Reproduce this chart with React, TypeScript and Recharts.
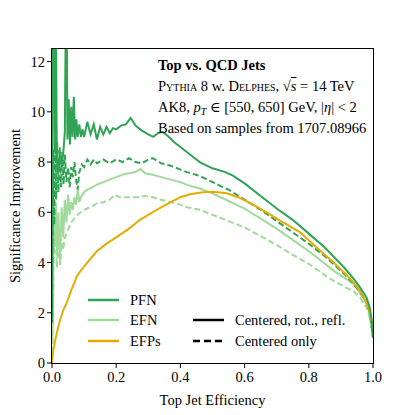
import React from 'react';
import { LineChart, Line, XAxis, YAxis } from 'recharts';

// efficiency, significance improvement
const PFN_ROT: [number, number][] = [
  [0.001, 1.6], [0.002, 14], [0.004, 10], [0.006, 14], [0.009, 8.5], [0.012, 14], [0.015, 8.2],
  [0.02, 7.6], [0.025, 8.4], [0.03, 7.8], [0.036, 8.5], [0.04, 9.2], [0.043, 14], [0.046, 13.5],
  [0.048, 8.9], [0.052, 10.5], [0.056, 8.7], [0.06, 10.2], [0.064, 9.0], [0.068, 10.6], [0.072, 8.9],
  [0.076, 9.7], [0.08, 9.0], [0.085, 9.5], [0.09, 9.0], [0.095, 9.3], [0.1, 9.0], [0.11, 9.6],
  [0.12, 9.1], [0.13, 9.5], [0.14, 8.9], [0.15, 9.4], [0.16, 9.1], [0.17, 9.4], [0.18, 9.15],
  [0.19, 9.35], [0.2, 9.3], [0.215, 9.45], [0.23, 9.5], [0.245, 9.75], [0.26, 9.45], [0.28, 9.25],
  [0.3, 9.1], [0.315, 9.0], [0.33, 9.15], [0.345, 9.2], [0.36, 9.05], [0.38, 8.8], [0.4, 8.6],
  [0.42, 8.4], [0.44, 8.2], [0.46, 8.0], [0.5, 7.75], [0.54, 7.6], [0.565, 7.45], [0.6, 7.15],
  [0.65, 6.65], [0.7, 6.15], [0.75, 5.7], [0.8, 5.15], [0.85, 4.6], [0.88, 4.2], [0.91, 3.8],
  [0.94, 3.35], [0.96, 3.0], [0.98, 2.6], [0.99, 2.2], [0.996, 1.7], [1.0, 1.0],
];

const PFN_CEN: [number, number][] = [
  [0.001, 4.0], [0.004, 8.5], [0.007, 5.5], [0.01, 9.0], [0.013, 6.5], [0.016, 8.8], [0.02, 6.8],
  [0.024, 8.6], [0.028, 7.0], [0.032, 8.4], [0.036, 7.1], [0.04, 8.3], [0.045, 7.2], [0.05, 7.8],
  [0.055, 7.0], [0.06, 7.8], [0.065, 7.4], [0.07, 8.0], [0.075, 7.3], [0.08, 6.9], [0.085, 7.6],
  [0.093, 7.9], [0.1, 7.8], [0.11, 8.1], [0.12, 7.9], [0.13, 8.1], [0.14, 7.95], [0.16, 8.1],
  [0.18, 7.95], [0.2, 8.1], [0.22, 8.0], [0.24, 8.15], [0.26, 8.0], [0.28, 7.95], [0.3, 8.1],
  [0.315, 8.15], [0.34, 7.95], [0.37, 7.85], [0.4, 7.7], [0.42, 7.6], [0.46, 7.45], [0.5, 7.2],
  [0.55, 6.9], [0.6, 6.5], [0.65, 6.1], [0.7, 5.65], [0.75, 5.2], [0.8, 4.75], [0.85, 4.25],
  [0.88, 3.9], [0.91, 3.55], [0.94, 3.15], [0.96, 2.8], [0.98, 2.4], [0.99, 2.0], [1.0, 1.0],
];

const EFN_ROT: [number, number][] = [
  [0.001, 0.8], [0.004, 5.5], [0.008, 4.6], [0.012, 6.4], [0.016, 4.3], [0.02, 6.0], [0.025, 4.0],
  [0.03, 6.2], [0.035, 5.0], [0.04, 6.5], [0.045, 5.6], [0.05, 6.7], [0.055, 5.9], [0.06, 6.4],
  [0.065, 6.1], [0.07, 6.6], [0.075, 6.3], [0.08, 6.9], [0.085, 6.4], [0.09, 6.6], [0.1, 6.8],
  [0.11, 6.9], [0.12, 6.95], [0.14, 7.1], [0.16, 7.2], [0.18, 7.3], [0.2, 7.4], [0.22, 7.5],
  [0.24, 7.55], [0.26, 7.6], [0.275, 7.72], [0.29, 7.55], [0.31, 7.5], [0.34, 7.4], [0.37, 7.3],
  [0.4, 7.2], [0.43, 7.05], [0.46, 6.95], [0.5, 6.75], [0.55, 6.45], [0.6, 6.15], [0.65, 5.75],
  [0.7, 5.35], [0.75, 4.9], [0.8, 4.45], [0.85, 3.95], [0.88, 3.65], [0.91, 3.4], [0.94, 3.15],
  [0.96, 2.8], [0.98, 2.4], [0.99, 2.0], [1.0, 1.0],
];

const EFN_CEN: [number, number][] = [
  [0.001, 0.4], [0.005, 4.0], [0.01, 5.5], [0.015, 3.8], [0.02, 5.0], [0.025, 3.9], [0.03, 4.8],
  [0.035, 4.5], [0.04, 5.0], [0.05, 5.3], [0.06, 5.6], [0.066, 5.7], [0.08, 5.9], [0.1, 6.1],
  [0.118, 6.2], [0.14, 6.35], [0.16, 6.4], [0.18, 6.5], [0.196, 6.7], [0.21, 6.6], [0.24, 6.6],
  [0.27, 6.6], [0.29, 6.65], [0.315, 6.6], [0.34, 6.5], [0.37, 6.4], [0.4, 6.3], [0.42, 6.2],
  [0.46, 6.1], [0.5, 5.9], [0.55, 5.65], [0.6, 5.4], [0.65, 5.05], [0.7, 4.7], [0.75, 4.3],
  [0.8, 3.95], [0.85, 3.5], [0.88, 3.25], [0.91, 3.05], [0.94, 2.85], [0.96, 2.6], [0.98, 2.2],
  [0.99, 1.8], [1.0, 1.0],
];

const EFP: [number, number][] = [
  [0, 0], [0.004, 0.5], [0.01, 0.9], [0.015, 1.2], [0.025, 1.7], [0.035, 2.1], [0.046, 2.4],
  [0.06, 2.9], [0.07, 3.2], [0.077, 3.45], [0.085, 3.6], [0.097, 3.8], [0.12, 4.15], [0.14, 4.45],
  [0.17, 4.75], [0.2, 5.0], [0.24, 5.35], [0.274, 5.7], [0.3, 5.9], [0.336, 6.17], [0.37, 6.4],
  [0.4, 6.6], [0.43, 6.72], [0.47, 6.8], [0.5, 6.82], [0.544, 6.76], [0.58, 6.6], [0.62, 6.35],
  [0.668, 6.0], [0.72, 5.6], [0.773, 5.2], [0.82, 4.65], [0.877, 4.0], [0.91, 3.6], [0.94, 3.2],
  [0.96, 2.85], [0.98, 2.4], [0.99, 2.0], [1.0, 1.4],
];

const X_TICKS = [0, 0.2, 0.4, 0.6, 0.8, 1.0];
const Y_TICKS = [0, 2, 4, 6, 8, 10, 12];

const PFN_COLOR = '#31a354';
const EFN_COLOR = '#a1d99b';
const EFP_COLOR = '#e6ab02';
const FONT = '"Liberation Serif", "DejaVu Serif", serif';

const toPoints = (arr: [number, number][]) => arr.map(([x, y]) => ({ x, y }));

const tickStyle = { fontSize: 14.5, fill: '#000', fontFamily: FONT };

const LegendRow = ({ x, y, color, dash, label }: { x: number; y: number; color: string; dash?: boolean; label: string }) => (
  <div style={{ position: 'absolute', left: x, top: y - 10, height: 20, display: 'flex', alignItems: 'center' }}>
    <svg width={32} height={20}>
      <line x1={0} y1={10} x2={31} y2={10} stroke={color} strokeWidth={2.5} strokeDasharray={dash ? '7 4' : undefined} />
    </svg>
    <span style={{ marginLeft: 10, fontSize: 14.5, fontFamily: FONT, whiteSpace: 'nowrap' }}>{label}</span>
  </div>
);

export default function App() {
  return (
    <div style={{ position: 'absolute', left: 0, top: 0, width: 415, height: 415, background: '#fff', fontFamily: FONT }}>
      <LineChart width={415} height={415} margin={{ top: 49, right: 42, left: 0, bottom: 0 }}>
        <XAxis
          dataKey="x"
          type="number"
          domain={[0, 1]}
          ticks={X_TICKS}
          tickFormatter={(v: number) => v.toFixed(1)}
          axisLine={false}
          tickLine={{ stroke: '#000' }}
          tickSize={5}
          tickMargin={4}
          height={52}
          tick={tickStyle}
          label={{ value: 'Top Jet Efficiency', position: 'insideBottom', offset: 10, style: { fontSize: 14.5, fill: '#000', fontFamily: FONT } }}
        />
        <YAxis
          type="number"
          domain={[0, 12.5]}
          allowDataOverflow
          ticks={Y_TICKS}
          axisLine={false}
          tickLine={{ stroke: '#000' }}
          tickSize={5}
          tickMargin={2}
          width={52}
          tick={tickStyle}
          label={{ value: 'Significance Improvement', angle: -90, position: 'insideLeft', offset: 15, style: { textAnchor: 'middle', fontSize: 14.5, fill: '#000', fontFamily: FONT } }}
        />
        <Line data={toPoints(EFN_CEN)} dataKey="y" stroke={EFN_COLOR} strokeWidth={2} strokeDasharray="6 3" dot={false} isAnimationActive={false} />
        <Line data={toPoints(EFN_ROT)} dataKey="y" stroke={EFN_COLOR} strokeWidth={2} dot={false} isAnimationActive={false} />
        <Line data={toPoints(PFN_CEN)} dataKey="y" stroke={PFN_COLOR} strokeWidth={2} strokeDasharray="6 3" dot={false} isAnimationActive={false} />
        <Line data={toPoints(EFP)} dataKey="y" stroke={EFP_COLOR} strokeWidth={2} dot={false} isAnimationActive={false} />
        <Line data={toPoints(PFN_ROT)} dataKey="y" stroke={PFN_COLOR} strokeWidth={2} dot={false} isAnimationActive={false} />
      </LineChart>

      {/* frame */}
      <div style={{ position: 'absolute', left: 51, top: 48, width: 323, height: 316, border: '1px solid #000', boxSizing: 'border-box' }} />

      {/* annotation */}
      <div style={{ position: 'absolute', left: 158, top: 55, fontSize: 14.5, lineHeight: '21px', color: '#000', whiteSpace: 'nowrap' }}>
        <div style={{ fontWeight: 'bold' }}>Top vs. QCD Jets</div>
        <div>
          <span style={{ fontVariant: 'small-caps' }}>Pythia</span> 8 w. <span style={{ fontVariant: 'small-caps' }}>Delphes</span>,{' '}
          √<span style={{ textDecoration: 'overline', fontStyle: 'italic' }}>s</span> = 14 TeV
        </div>
        <div>
          AK8, <i>p</i>
          <span style={{ fontSize: 10, fontStyle: 'italic', verticalAlign: -3, lineHeight: 0 }}>T</span> ∈ [550, 650] GeV, |<i>η</i>| &lt; 2
        </div>
        <div>Based on samples from 1707.08966</div>
      </div>

      {/* legend */}
      <LegendRow x={88} y={300} color={PFN_COLOR} label="PFN" />
      <LegendRow x={88} y={320} color={EFN_COLOR} label="EFN" />
      <LegendRow x={88} y={341} color={EFP_COLOR} label="EFPs" />
      <LegendRow x={193} y={320} color="#000" label="Centered, rot., refl." />
      <LegendRow x={193} y={341} color="#000" dash label="Centered only" />
    </div>
  );
}
